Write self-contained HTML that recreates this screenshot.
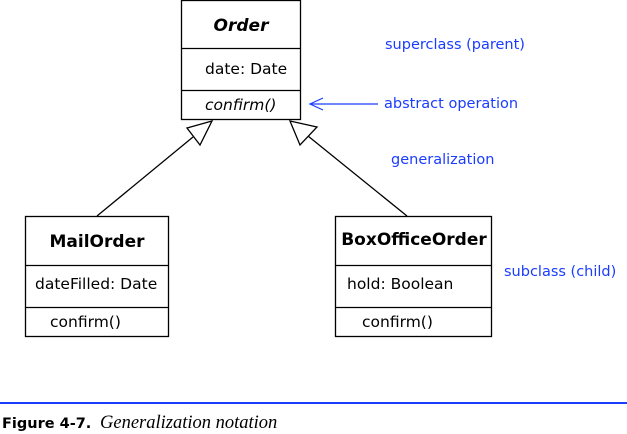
<!DOCTYPE html>
<html><head><style>
body{margin:0;width:627px;height:434px;background:#fff;overflow:hidden;font-family:"DejaVu Sans","Liberation Sans",sans-serif}
</style></head><body>
<svg width="627" height="434" xmlns="http://www.w3.org/2000/svg" style="position:absolute;left:0;top:0">
<g fill="none" stroke="#000" stroke-width="1.3">
<rect x="181.5" y="0.5" width="119" height="119"/>
<line x1="181" y1="48.5" x2="301" y2="48.5"/>
<line x1="181" y1="90.5" x2="301" y2="90.5"/>
<rect x="25.5" y="216.5" width="143" height="120"/>
<line x1="25" y1="265.5" x2="169" y2="265.5"/>
<line x1="25" y1="307.5" x2="169" y2="307.5"/>
<rect x="335.5" y="216.5" width="156" height="120"/>
<line x1="335" y1="265.5" x2="492" y2="265.5"/>
<line x1="335" y1="307.5" x2="492" y2="307.5"/>
<polygon points="212,121 187,128 200,145"/>
<line x1="193" y1="137" x2="97" y2="216"/>
<polygon points="290,121 317,127 300,145"/>
<line x1="308" y1="136" x2="407" y2="216"/>
</g>
<g stroke="#1a3cff" stroke-width="1.2" fill="none">
<line x1="310" y1="104" x2="378" y2="104"/>
<polyline points="323,98 310,104 323,110"/>
</g>
<rect x="0" y="402" width="627" height="2" fill="#1a3cff"/>
<g font-size="17" fill="#000">
<text x="241" y="31" text-anchor="middle" font-weight="bold" font-style="italic">Order</text>
<text x="205" y="74" font-size="15.5">date: Date</text>
<text x="205" y="110" font-size="15.5" font-style="italic">confirm()</text>
<text x="97" y="247" text-anchor="middle" font-weight="bold">MailOrder</text>
<text x="35" y="289" font-size="15.5">dateFilled: Date</text>
<text x="50" y="327" font-size="15.5">confirm()</text>
<text x="414" y="245" text-anchor="middle" font-weight="bold">BoxOfficeOrder</text>
<text x="347" y="289" font-size="15.5">hold: Boolean</text>
<text x="362" y="327" font-size="15.5">confirm()</text>
</g>
<g font-size="14.5" fill="#1a3cff">
<text x="385" y="49">superclass (parent)</text>
<text x="384" y="108">abstract operation</text>
<text x="391" y="164">generalization</text>
<text x="504" y="276">subclass (child)</text>
</g>
<text x="2" y="428" font-size="14.5" font-weight="bold" font-family="'DejaVu Sans',sans-serif">Figure 4-7.</text>
<text x="100" y="428" font-size="18.5" font-style="italic" font-family="'Liberation Serif',serif">Generalization notation</text>
</svg>
</body></html>
